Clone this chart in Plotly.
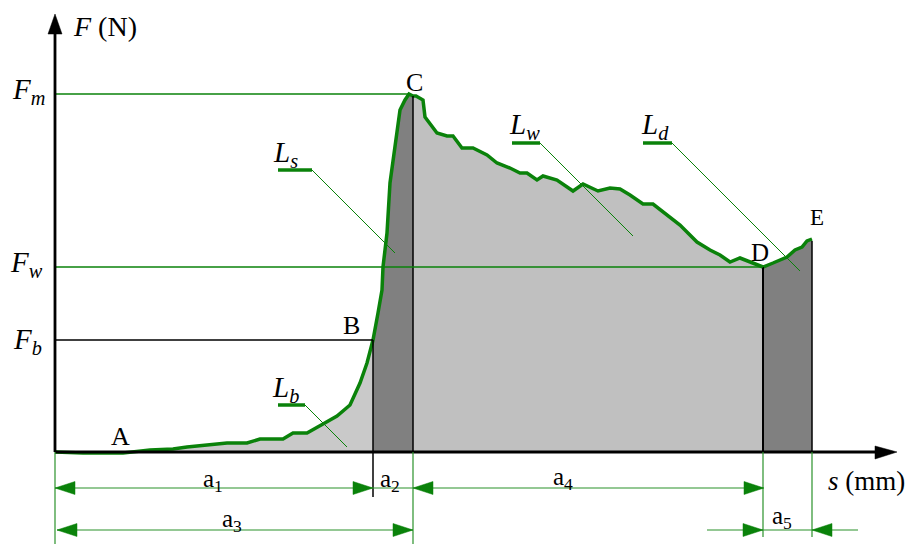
import plotly.graph_objects as go

# Origin of the diagram (pixel) -> data: s = px - 55, F = 452 - py
OX, OY = 55, 452

# Force–displacement curve (s in mm-units, F in N-units)
s_vals = [0, 28, 68, 95, 118, 132, 172, 192, 205, 228, 238, 252, 268, 282, 295, 305, 312,
          318, 323, 327, 328, 332, 335, 340, 345, 350, 354, 358, 361, 368, 370, 382, 392, 398,
          407, 418, 432, 442, 455, 465, 472, 482, 488, 502, 518, 528, 543, 555, 565, 575, 588,
          598, 615, 625, 642, 655, 665, 675, 685, 695, 708, 718, 732, 740, 747, 752, 757]
F_vals = [0, -1, -1, 2, 3, 5, 9, 9, 13, 13, 19, 19, 28, 36, 47, 69, 89,
          112, 139, 162, 185, 219, 269, 305, 342, 352, 358, 356, 356, 352, 335, 319, 316, 316,
          304, 304, 297, 289, 284, 279, 279, 272, 276, 272, 261, 268, 261, 264, 263, 257, 248,
          248, 235, 227, 210, 202, 197, 190, 194, 190, 185, 189, 195, 202, 205, 211, 213]

# Segment boundaries (s) and fills
s_b, s_c, s_d, s_e = 318, 358, 708, 757

GREEN = "#0a820a"
THIN = "#2a922a"
FONT = "Liberation Serif"


def seg(a, b):
    xs, ys = [], []
    for x, y in zip(s_vals, F_vals):
        if a <= x <= b:
            xs.append(x)
            ys.append(y)
    return xs, ys


def X(px):
    return px - OX


def Y(py):
    return OY - py


fig = go.Figure()

fills = [((0, s_b), "#c9c9c9"), ((s_b, s_c), "#808080"),
         ((s_c, s_d), "#c0c0c0"), ((s_d, s_e), "#808080")]
for (a, b), col in fills:
    xs, ys = seg(a, b)
    fig.add_trace(go.Scatter(x=xs, y=ys, mode="lines", fill="tozeroy",
                             fillcolor=col, line=dict(width=0), hoverinfo="skip",
                             showlegend=False))

shapes = []


def line(x0, y0, x1, y1, color="black", width=1.0):
    shapes.append(dict(type="line", xref="x", yref="y", x0=X(x0), y0=Y(y0),
                       x1=X(x1), y1=Y(y1), line=dict(color=color, width=width),
                       layer="above"))


def tri(pts, color):
    p = "M " + " L ".join(f"{X(a)},{Y(b)}" for a, b in pts) + " Z"
    shapes.append(dict(type="path", xref="x", yref="y", path=p,
                       fillcolor=color, line=dict(color=color, width=0.5), layer="above"))


def harrow(tip, y, direction, color=GREEN, L=20, H=6.5):
    base = tip - direction * L
    tri([(tip, y), (base, y - H), (base, y + H)], color)


# vertical black boundary lines
line(373, 340, 373, 497, "black", 1.5)
line(413, 96, 413, 452, "black", 1.5)
line(763, 267, 763, 452, "black", 2)
line(812, 241, 812, 452, "black", 1.5)

# reference levels
line(55, 94, 409, 94, GREEN, 1.3)
line(55, 267, 763, 267, GREEN, 1.3)
line(55, 340, 373, 340, "black", 1.5)

# axes
line(55, 452, 885, 452, "black", 2.8)
line(55, 452, 55, 30, "black", 2.8)
tri([(897, 452), (875, 446), (875, 459)], "black")
tri([(55, 14), (48, 34), (62, 34)], "black")

# extension lines
line(55, 452, 55, 544, THIN, 1.2)
line(413, 452, 413, 544, THIN, 1.2)
line(763, 452, 763, 537, THIN, 1.2)
line(812, 452, 812, 537, THIN, 1.2)

# dimension lines
line(55, 488, 763, 488, THIN, 1.2)
harrow(55, 488, -1)
harrow(373, 488, +1)
harrow(413, 488, -1)
harrow(764, 488, +1)
line(57, 530, 413, 530, THIN, 1.2)
harrow(57, 530, -1)
harrow(413, 530, +1)
line(707, 530, 858, 530, THIN, 1.2)
harrow(763, 530, +1)
harrow(812, 530, -1)

# leaders
leaders = [((278, 170), (312, 170), (395, 253)),
           ((278, 405), (305, 405), (347, 447)),
           ((512, 143), (540, 143), (633, 236)),
           ((643, 143), (672, 143), (800, 271))]
for a, b, c in leaders:
    line(a[0], a[1], b[0], b[1], GREEN, 3.5)
    line(b[0], b[1], c[0], c[1], GREEN, 1.0)

# main curve
fig.add_trace(go.Scatter(x=s_vals, y=F_vals, mode="lines",
                         line=dict(color=GREEN, width=3.5), hoverinfo="skip",
                         showlegend=False))

ann = []


def text(px, py, t, size=23, anchor="center"):
    ann.append(dict(x=X(px), y=Y(py), xref="x", yref="y", text=t, showarrow=False,
                    xanchor=anchor, yanchor="middle",
                    font=dict(family=FONT, size=size, color="black")))


text(71, 26, "<i>F</i> (N)", 28, "left")
text(10, 91, "<i>F<sub>m</sub></i>", 29, "left")
text(8, 264, "<i>F<sub>w</sub></i>", 29, "left")
text(11, 341, "<i>F<sub>b</sub></i>", 29, "left")
text(120, 436, "A", 26)
text(351, 325, "B", 26)
text(414, 82, "C", 26)
text(760, 252, "D", 25)
text(817, 217, "E", 23)
text(285, 154, "<i>L<sub>s</sub></i>", 29)
text(285, 389, "<i>L<sub>b</sub></i>", 29)
text(524, 126, "<i>L<sub>w</sub></i>", 29)
text(655, 126, "<i>L<sub>d</sub></i>", 29)
text(213, 480, "a<sub>1</sub>", 25)
text(390, 480, "a<sub>2</sub>", 25)
text(232, 520, "a<sub>3</sub>", 25)
text(563, 478, "a<sub>4</sub>", 25)
text(782, 517, "a<sub>5</sub>", 25)
text(866, 481, "<i>s</i> (mm)", 27)

fig.update_layout(
    width=912, height=544, autosize=False,
    margin=dict(l=0, r=0, t=0, b=0, pad=0),
    paper_bgcolor="white", plot_bgcolor="white",
    xaxis=dict(range=[-OX, 912 - OX], visible=False, showgrid=False, zeroline=False),
    yaxis=dict(range=[OY - 544, OY], visible=False, showgrid=False, zeroline=False),
    shapes=shapes, annotations=ann, showlegend=False,
)

fig.write_html("out.html")
